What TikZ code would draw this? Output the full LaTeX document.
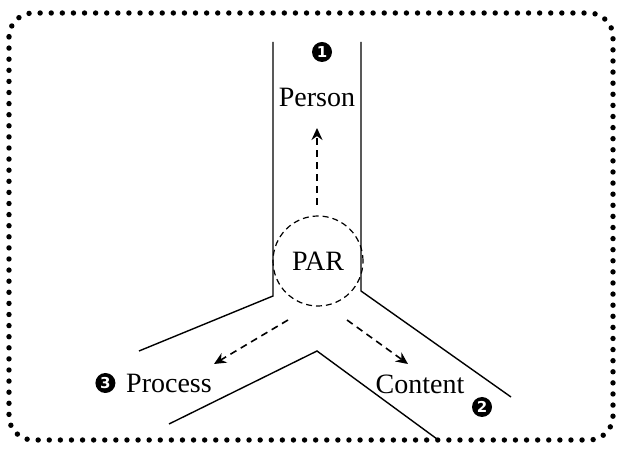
\documentclass[tikz,border=0pt]{standalone}
\usepackage{fontspec}
\setmainfont{Liberation Serif}
\setsansfont{DejaVu Sans}
\usetikzlibrary{arrows.meta, positioning, calc}

\tikzset{
  wall/.style={line width=0.7pt},
  flow/.style={line width=0.8pt, dash pattern=on 3.5pt off 2.5pt, -{Stealth[length=6pt,width=5.5pt]}},
  label/.style={font=\fontsize{14}{16}\selectfont, inner sep=0pt},
  badge/.style={circle, fill=black, text=white, inner sep=0pt, minimum size=10pt,
    font=\sffamily\bfseries\fontsize{7.5}{7.5}\selectfont}
}

\begin{document}
\begin{tikzpicture}[x=0.5pt,y=-0.5pt]
  \useasboundingbox (0,0) rectangle (621,453);
  % dotted frame
  \draw[line width=2.7pt, line cap=round, dash pattern=on 0pt off 5.55pt, rounded corners=12pt]
    (9,13) rectangle (613,440);

  % channel walls
  \draw[wall] (273,42) -- (273,296) -- (139,351);
  \draw[wall] (361,42) -- (361,291) -- (511,397);
  \draw[wall] (169,424) -- (317,351) -- (437,439);

  % centre
  \node[circle, draw, dash pattern=on 3pt off 2pt, line width=0.6pt, minimum size=45pt,
        inner sep=0pt, font=\fontsize{14}{16}\selectfont] (par) at (318,261) {PAR};

  % labels
  \node[label] (person) at (317,97) {Person};
  \node[badge] (one) at (322,52) {1};
  \node[label] (process) at (169,383) {Process};
  \node[badge, left=5pt of process] (three) {3};
  \node[label] (content) at (420,384) {Content};
  \node[badge] (two) at (482,407) {2};

  % flows
  \coordinate (upS) at (317,205);
  \coordinate (upE) at (317,128);
  \coordinate (lfS) at (288,320);
  \coordinate (lfE) at (214,364);
  \coordinate (rtS) at (347,320);
  \coordinate (rtE) at (408,364);
  \draw[flow] (upS) -- (upE);
  \draw[flow] (lfS) -- (lfE);
  \draw[flow] (rtS) -- (rtE);
\end{tikzpicture}
\end{document}
